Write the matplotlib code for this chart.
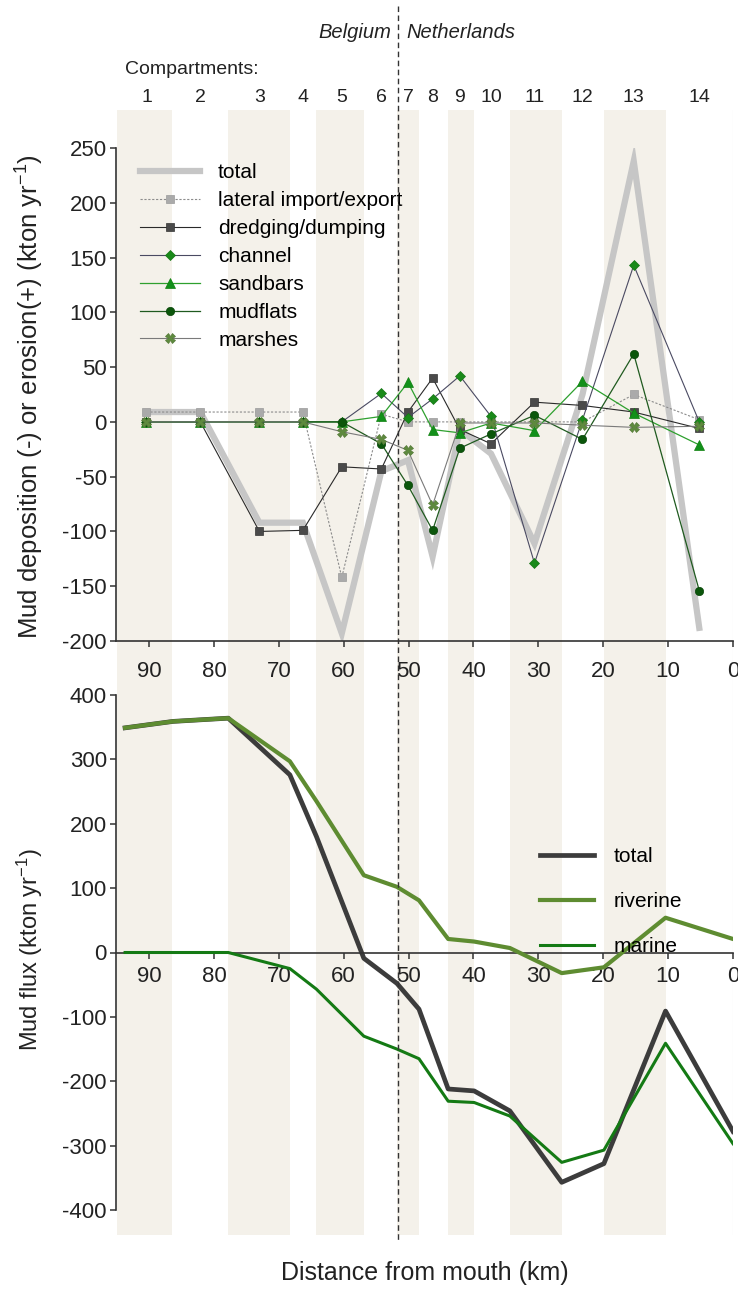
import matplotlib
matplotlib.use("Agg")
import matplotlib.pyplot as plt
from matplotlib.lines import Line2D
from matplotlib.transforms import blended_transform_factory

plt.rcParams['font.family'] = ['Liberation Sans', 'DejaVu Sans']
plt.rcParams['mathtext.fontset'] = 'custom'
plt.rcParams['mathtext.rm'] = 'Liberation Sans'
plt.rcParams['mathtext.it'] = 'Liberation Sans:italic'
plt.rcParams['mathtext.default'] = 'regular'
plt.rcParams['axes.unicode_minus'] = False

# ---- compartments along the estuary (distance from mouth, km) ----
compartments = list(range(1, 15))
compartment_km = [90.4, 82.1, 73.0, 66.3, 60.3, 54.2, 50.1, 46.3, 42.1, 37.3, 30.6, 23.2, 15.3, 5.2]
boundary_km = [95.0, 86.4, 77.8, 68.3, 64.2, 56.9, 51.8, 48.4, 43.9, 39.9, 34.4, 26.4, 19.9, 10.4, 0.0]
border_km = 51.6

# ---- mud budget per compartment (kton/yr) ----
budget_total = [9, 9, -92, -92, -193, -45, -35, -123, -7, -29, -111, 25, 238, -188]
budget_lateral = [9, 9, 9, 9, -142, 7, 0, 0, 0, 0, 0, 0, 25, 2]
budget_dredging = [0, 0, -100, -99, -41, -43, 9, 40, -7, -20, 18, 15, 9, -6]
budget_channel = [0, 0, 0, 0, 0, 26, 4, 21, 42, 5, -129, 2, 143, 0]
budget_sandbars = [0, 0, 0, 0, 0, 5, 36, -7, -10, -1, -8, 37, 8, -21]
budget_mudflats = [0, 0, 0, 0, 0, -20, -58, -99, -24, -11, 6, -16, 62, -154]
budget_marshes = [0, 0, 0, 0, -9, -16, -26, -76, -1, -1, -1, -3, -5, -4]

# ---- mud fluxes across compartment boundaries (kton/yr) ----
flux_km = [93.7, 86.3, 77.8, 68.3, 64.2, 56.9, 51.8, 48.4, 43.9, 39.9, 34.4, 26.4, 19.9, 10.4, 0.0]
flux_total = [349, 359, 364, 276, 180, -9, -48, -88, -212, -215, -246, -357, -328, -91, -278]
flux_riverine = [349, 359, 364, 297, 235, 120, 102, 81, 21, 17, 7, -32, -23, 54, 21]
flux_marine = [0, 0, 0, -25, -57, -130, -150, -165, -231, -233, -254, -326, -307, -141, -297]

x_ticks = [90, 80, 70, 60, 50, 40, 30, 20, 10, 0]
top_yticks = [-200, -150, -100, -50, 0, 50, 100, 150, 200, 250]
bot_yticks = [-400, -300, -200, -100, 0, 100, 200, 300, 400]

W, H = 738, 1296
fig = plt.figure(figsize=(W / 100, H / 100), dpi=100)
fig.patch.set_facecolor('white')


def fx(px):
    return px / W


def fy(py):
    return 1 - py / H


XL, XR = 116, 733
XLIM = (95.1, 0.0)
AX_COL = '#333333'
TXT = '#222222'
BAND = '#f4f1ea'

# shaded compartment bands behind both panels
bg = fig.add_axes([fx(XL), fy(1235), fx(XR) - fx(XL), (1235 - 110) / H], zorder=0)
bg.set_xlim(*XLIM)
bg.set_ylim(0, 1)
bg.axis('off')
for i in range(0, len(boundary_km) - 1, 2):
    bg.axvspan(boundary_km[i], boundary_km[i + 1], color=BAND, lw=0)
bg.axvline(0.0, color='#e4e4e4', lw=0.8)

ax_top = fig.add_axes([fx(XL), fy(641), fx(XR) - fx(XL), (641 - 148) / H], zorder=1)
ax_bot = fig.add_axes([fx(XL), fy(1210), fx(XR) - fx(XL), (1210 - 695) / H], zorder=1)

for ax in (ax_top, ax_bot):
    ax.set_facecolor('none')
    ax.set_xlim(*XLIM)
    ax.set_xticks(x_ticks)
    for s in ('top', 'right'):
        ax.spines[s].set_visible(False)
    for s in ('left', 'bottom'):
        ax.spines[s].set_color(AX_COL)
        ax.spines[s].set_linewidth(1.2)
    ax.tick_params(direction='out', length=4.5, width=1.1, color=AX_COL,
                   labelsize=16, labelcolor=TXT)
    ax.tick_params(axis='y', pad=2)

# ---- upper panel: mud budget ----
ax_top.set_ylim(-200, 250)
ax_top.set_yticks(top_yticks)
ax_top.tick_params(axis='x', pad=10)

ax_top.plot(compartment_km, budget_total, color='#c6c6c6', lw=4.5,
            solid_joinstyle='miter', label='total', zorder=2)
ax_top.plot(compartment_km, budget_lateral, color='#8c8c8c', lw=0.8, ls=(0, (2, 1.5)),
            marker='s', ms=6, mfc='#aaaaaa', mec='#9a9a9a', mew=0.5,
            label='lateral import/export', zorder=3)
ax_top.plot(compartment_km, budget_dredging, color='#2a2a2a', lw=0.8,
            marker='s', ms=6, mfc='#4a4a4a', mec='#333333', mew=0.5,
            label='dredging/dumping', zorder=4)
ax_top.plot(compartment_km, budget_channel, color='#4a4a62', lw=0.8,
            marker='D', ms=5.5, mfc='#1a8a1a', mec='#157515', mew=0.5,
            label='channel', zorder=5)
ax_top.plot(compartment_km, budget_sandbars, color='#2ea02e', lw=0.9,
            marker='^', ms=7, mfc='#12901a', mec='#0e800e', mew=0.5,
            label='sandbars', zorder=6)
ax_top.plot(compartment_km, budget_mudflats, color='#1f5a1f', lw=0.9,
            marker='o', ms=6, mfc='#0b560b', mec='#094509', mew=0.5,
            label='mudflats', zorder=7)
ax_top.plot(compartment_km, budget_marshes, color='#7a7a7a', lw=0.8,
            marker='X', ms=7, mfc='#5e8a3e', mec='#557a38', mew=0.5,
            label='marshes', zorder=8)

ax_top.legend(loc='upper left', bbox_to_anchor=(fx(140), fy(163)),
              bbox_transform=fig.transFigure, frameon=False, fontsize=15,
              handlelength=2.9, handletextpad=0.85, labelspacing=0.43,
              borderpad=0, borderaxespad=0, numpoints=1)

# ---- lower panel: mud fluxes ----
ax_bot.set_ylim(-400, 400)
ax_bot.set_yticks(bot_yticks)
ax_bot.spines['bottom'].set_position(('data', 0))
ax_bot.tick_params(axis='x', pad=5)

ax_bot.plot(flux_km, flux_riverine, color='#5e8c31', lw=3.0, label='riverine', zorder=3)
ax_bot.plot(flux_km, flux_marine, color='#147a14', lw=2.2, label='marine', zorder=3)
ax_bot.plot(flux_km, flux_total, color='#3c3c3c', lw=3.4, label='total', zorder=2)

h, l = ax_bot.get_legend_handles_labels()
order = [2, 0, 1]
ax_bot.legend([h[i] for i in order], [l[i] for i in order],
              loc='upper left', bbox_to_anchor=(fx(540), fy(847)),
              bbox_transform=fig.transFigure, frameon=False, fontsize=15,
              handlelength=2.6, handletextpad=0.95, labelspacing=1.25,
              borderpad=0, borderaxespad=0)

# ---- axis titles ----
fig.text(fx(30), fy(397), 'Mud deposition (-) or erosion(+) (kton yr$^{-1}$)',
         rotation=90, ha='center', va='center', fontsize=18.5, color=TXT)
fig.text(fx(30), fy(950), 'Mud flux (kton yr$^{-1}$)',
         rotation=90, ha='center', va='center', fontsize=17, color=TXT)
fig.text(fx(425), fy(1273), 'Distance from mouth (km)',
         ha='center', va='center', fontsize=18, color=TXT)

# ---- compartment numbers and national border ----
trans = blended_transform_factory(ax_top.transData, fig.transFigure)
fig.text(fx(125), fy(70), 'Compartments:', ha='left', va='center',
         fontsize=14, color=TXT)
for k, km in zip(compartments, compartment_km):
    fig.text(km, fy(97), str(k), transform=trans, ha='center', va='center',
             fontsize=14, color=TXT)

fig.add_artist(Line2D([border_km, border_km], [fy(6), fy(1240)], transform=trans,
                      color='#333333', lw=1.0, ls='--', dashes=(4, 2.5), zorder=5))
fig.text(fx(391), fy(33), 'Belgium', ha='right', va='center', fontsize=14.5,
         style='italic', color=TXT)
fig.text(fx(406), fy(33), 'Netherlands', ha='left', va='center', fontsize=14.5,
         style='italic', color=TXT)

fig.savefig('out.png', dpi=100, facecolor='white')
